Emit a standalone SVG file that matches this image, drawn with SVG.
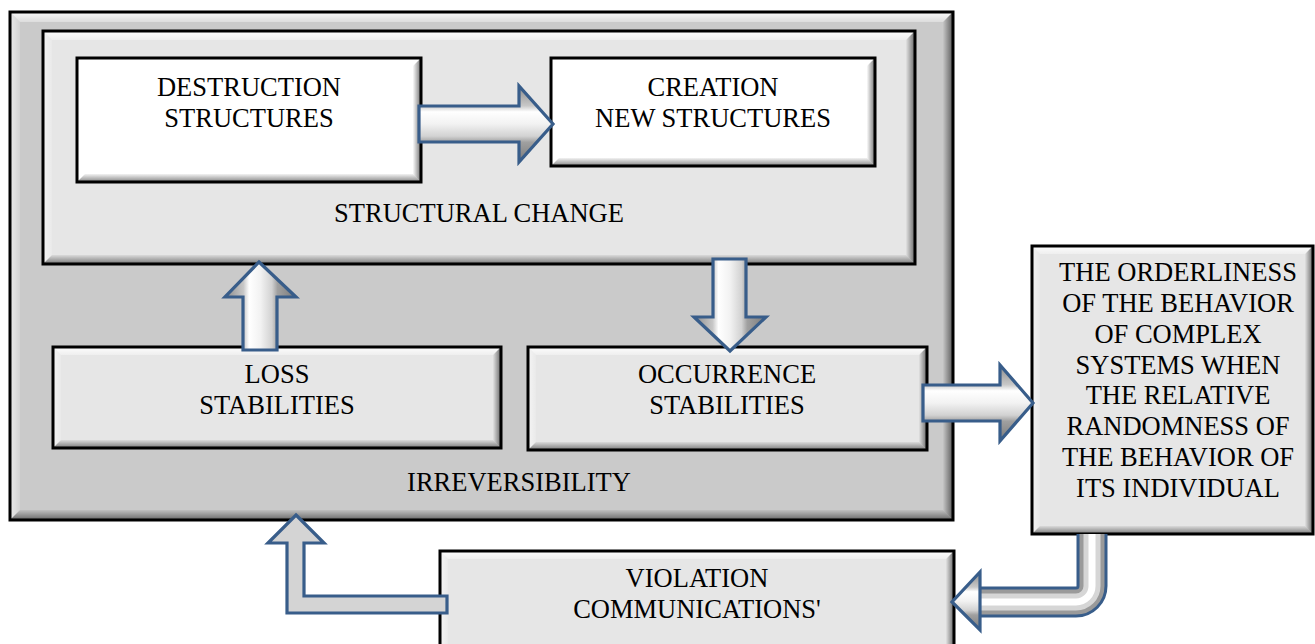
<svg xmlns="http://www.w3.org/2000/svg" width="1315" height="644" viewBox="0 0 1315 644">
<style>
.lbl{font-family:"Liberation Serif","Times New Roman",serif;font-size:26.5px;fill:#000;text-anchor:middle}
.edge{fill:none;stroke:#000;stroke-width:3}
.bt{fill:url(#gT)}
.bl{fill:url(#gL)}
.br{fill:url(#gR)}
.bb{fill:url(#gB)}
.arr{stroke:#385d8a;stroke-width:3.2;stroke-linejoin:miter}
.ah{fill:url(#gAH)}
.av{fill:url(#gAV)}
</style>
<defs>
<linearGradient id="gT" x1="0" y1="0" x2="0" y2="1"><stop offset="0" stop-color="#fff" stop-opacity="0.95"/><stop offset="1" stop-color="#fff" stop-opacity="0.35"/></linearGradient>
<linearGradient id="gL" x1="0" y1="0" x2="1" y2="0"><stop offset="0" stop-color="#fff" stop-opacity="0.6"/><stop offset="1" stop-color="#fff" stop-opacity="0.15"/></linearGradient>
<linearGradient id="gR" x1="0" y1="0" x2="1" y2="0"><stop offset="0" stop-color="#000" stop-opacity="0.02"/><stop offset="1" stop-color="#000" stop-opacity="0.55"/></linearGradient>
<linearGradient id="gB" x1="0" y1="0" x2="0" y2="1"><stop offset="0" stop-color="#000" stop-opacity="0.05"/><stop offset="0.7" stop-color="#000" stop-opacity="0.35"/><stop offset="1" stop-color="#000" stop-opacity="0.55"/></linearGradient>
<linearGradient id="gAH" x1="0" y1="0" x2="0" y2="1"><stop offset="0" stop-color="#8a8a8a"/><stop offset="0.26" stop-color="#c8c8c8"/><stop offset="0.34" stop-color="#ffffff"/><stop offset="0.5" stop-color="#f2f2f2"/><stop offset="0.66" stop-color="#d2d2d2"/><stop offset="0.74" stop-color="#a0a0a0"/><stop offset="1" stop-color="#7a7a7a"/></linearGradient>
<linearGradient id="gAV" x1="0" y1="0" x2="1" y2="0"><stop offset="0" stop-color="#8a8a8a"/><stop offset="0.26" stop-color="#c8c8c8"/><stop offset="0.34" stop-color="#ffffff"/><stop offset="0.5" stop-color="#f2f2f2"/><stop offset="0.66" stop-color="#d2d2d2"/><stop offset="0.74" stop-color="#a0a0a0"/><stop offset="1" stop-color="#7a7a7a"/></linearGradient>
</defs>
<rect width="1315" height="644" fill="#fff"/>

<g id="irreversibility">
<rect x="10" y="12" width="943" height="508" fill="#cacaca"/>
<polygon class="bt" points="10,12 953,12 943,22 20,22"/>
<polygon class="bl" points="10,12 20,22 20,510 10,520"/>
<polygon class="br" points="953,12 953,520 943,510 943,22"/>
<polygon class="bb" points="10,520 20,510 943,510 953,520"/>
<rect class="edge" x="10" y="12" width="943" height="508"/>
<text class="lbl" x="519" y="491">IRREVERSIBILITY</text>
</g>

<g id="structural-change">
<rect x="43" y="31" width="872" height="233" fill="#e6e6e6"/>
<polygon class="bt" points="43,31 915,31 906,40 52,40"/>
<polygon class="bl" points="43,31 52,40 52,255 43,264"/>
<polygon class="br" points="915,31 915,264 906,255 906,40"/>
<polygon class="bb" points="43,264 52,255 906,255 915,264"/>
<rect class="edge" x="43" y="31" width="872" height="233"/>
<text class="lbl" x="479" y="222">STRUCTURAL CHANGE</text>
</g>

<g id="destruction">
<rect x="77" y="58" width="344" height="124" fill="#fff"/>
<polygon class="bt" points="77,58 421,58 413,66 85,66"/>
<polygon class="bl" points="77,58 85,66 85,174 77,182"/>
<polygon class="br" points="421,58 421,182 413,174 413,66"/>
<polygon class="bb" points="77,182 85,174 413,174 421,182"/>
<rect class="edge" x="77" y="58" width="344" height="124"/>
<text class="lbl" x="249" y="96">DESTRUCTION</text>
<text class="lbl" x="249" y="127">STRUCTURES</text>
</g>

<g id="creation">
<rect x="551" y="58" width="324" height="108" fill="#fff"/>
<polygon class="bt" points="551,58 875,58 867,66 559,66"/>
<polygon class="bl" points="551,58 559,66 559,158 551,166"/>
<polygon class="br" points="875,58 875,166 867,158 867,66"/>
<polygon class="bb" points="551,166 559,158 867,158 875,166"/>
<rect class="edge" x="551" y="58" width="324" height="108"/>
<text class="lbl" x="713" y="96">CREATION</text>
<text class="lbl" x="713" y="127">NEW STRUCTURES</text>
</g>

<g id="loss">
<rect x="53" y="347" width="448" height="101" fill="#e6e6e6"/>
<polygon class="bt" points="53,347 501,347 493,355 61,355"/>
<polygon class="bl" points="53,347 61,355 61,440 53,448"/>
<polygon class="br" points="501,347 501,448 493,440 493,355"/>
<polygon class="bb" points="53,448 61,440 493,440 501,448"/>
<rect class="edge" x="53" y="347" width="448" height="101"/>
<text class="lbl" x="277" y="383">LOSS</text>
<text class="lbl" x="277" y="414">STABILITIES</text>
</g>

<g id="occurrence">
<rect x="528" y="347" width="399" height="103" fill="#e6e6e6"/>
<polygon class="bt" points="528,347 927,347 919,355 536,355"/>
<polygon class="bl" points="528,347 536,355 536,442 528,450"/>
<polygon class="br" points="927,347 927,450 919,442 919,355"/>
<polygon class="bb" points="528,450 536,442 919,442 927,450"/>
<rect class="edge" x="528" y="347" width="399" height="103"/>
<text class="lbl" x="727" y="383">OCCURRENCE</text>
<text class="lbl" x="727" y="414">STABILITIES</text>
</g>

<g id="orderliness">
<rect x="1032" y="246" width="281" height="288" fill="#e6e6e6"/>
<polygon class="bt" points="1032,246 1313,246 1305,254 1040,254"/>
<polygon class="bl" points="1032,246 1040,254 1040,526 1032,534"/>
<polygon class="br" points="1313,246 1313,534 1305,526 1305,254"/>
<polygon class="bb" points="1032,534 1040,526 1305,526 1313,534"/>
<rect class="edge" x="1032" y="246" width="281" height="288"/>
<text class="lbl" x="1178" y="281">THE ORDERLINESS</text>
<text class="lbl" x="1178" y="312">OF THE BEHAVIOR</text>
<text class="lbl" x="1178" y="343">OF COMPLEX</text>
<text class="lbl" x="1178" y="374">SYSTEMS WHEN</text>
<text class="lbl" x="1178" y="404">THE RELATIVE</text>
<text class="lbl" x="1178" y="435">RANDOMNESS OF</text>
<text class="lbl" x="1178" y="466">THE BEHAVIOR OF</text>
<text class="lbl" x="1178" y="497">ITS INDIVIDUAL</text>
</g>

<g id="violation">
<rect x="440" y="551" width="514" height="110" fill="#e6e6e6"/>
<polygon class="bt" points="440,551 954,551 946,559 448,559"/>
<polygon class="bl" points="440,551 448,559 448,653 440,661"/>
<polygon class="br" points="954,551 954,661 946,653 946,559"/>
<rect class="edge" x="440" y="551" width="514" height="110"/>
<text class="lbl" x="697" y="587">VIOLATION</text>
<text class="lbl" x="697" y="618">COMMUNICATIONS'</text>
</g>

<g id="connectors">
<polygon class="arr ah" points="419,106 519,106 519,86 553,124 519,162 519,142 419,142"/>
<polygon class="arr av" points="259,262 296,297 277,297 277,350 243,350 243,297 225,297"/>
<polygon class="arr av" points="713,259 746,259 746,317 766,317 730,351 694,317 713,317"/>
<polygon class="arr ah" points="923,385 1000,385 1000,365 1033,403 1000,441 1000,421 923,421"/>
<polygon class="arr" fill="#d4d4d4" points="296,515 324,543 304,543 304,596 447,596 447,613 287,613 287,543 268,543"/>
<path d="M1092,534 V586 A16,16 0 0 1 1076,602 H979" fill="none" stroke="#385d8a" stroke-width="31"/>
<path d="M1092,534 V586 A16,16 0 0 1 1076,602 H979" fill="none" stroke="#9a9a9a" stroke-width="25"/>
<path d="M1092,534 V586 A16,16 0 0 1 1076,602 H979" fill="none" stroke="#d6d6d6" stroke-width="17"/>
<path d="M1092,534 V586 A16,16 0 0 1 1076,602 H979" fill="none" stroke="#ffffff" stroke-width="7"/>
<polygon class="arr ah" points="980,572 980,630 952,602"/>
</g>
</svg>
